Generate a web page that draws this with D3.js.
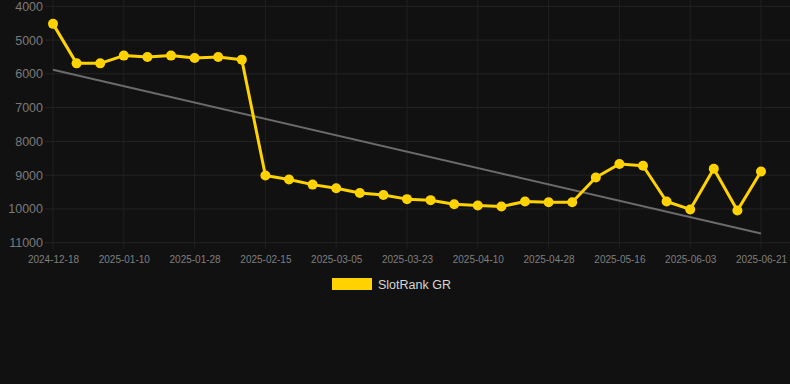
<!DOCTYPE html>
<html>
  <head>
    <script src="https://d3js.org/d3.v7.min.js"></script>
    <style>
      body { margin: 0; background: #111111; }
      text { font-family: "Liberation Sans", Arial, sans-serif; }
    </style>
  </head>
  <body>
    <div id="chart"></div>
    <script>
      const dates = [
        "2024-12-18", "2024-12-26", "2025-01-03", "2025-01-10", "2025-01-16",
        "2025-01-22", "2025-01-28", "2025-02-03", "2025-02-09", "2025-02-15",
        "2025-02-21", "2025-02-27", "2025-03-05", "2025-03-11", "2025-03-17",
        "2025-03-23", "2025-03-29", "2025-04-04", "2025-04-10", "2025-04-16",
        "2025-04-22", "2025-04-28", "2025-05-04", "2025-05-10", "2025-05-16",
        "2025-05-22", "2025-05-28", "2025-06-03", "2025-06-09", "2025-06-15",
        "2025-06-21",
      ];
      const ranks = [
        4520, 5690, 5690, 5460, 5500, 5460, 5530, 5500, 5580, 9010,
        9130, 9280, 9390, 9530, 9590, 9710, 9740, 9860, 9900, 9930,
        9780, 9800, 9800, 9070, 8670, 8720, 9780, 10015, 8810, 10045,
        8890,
      ];
      const yTicks = [4000, 5000, 6000, 7000, 8000, 9000, 10000, 11000];
      const seriesName = "SlotRank GR";

      const width = 790, height = 384;
      const plotLeft = 53, plotRight = 761, plotTop = 6.3, plotBottom = 242.7;

      const svg = d3
        .select("#chart")
        .append("svg")
        .attr("width", width)
        .attr("height", height);

      svg.append("rect")
        .attr("width", width)
        .attr("height", height)
        .attr("fill", "#111111");

      const x = d3.scalePoint().domain(dates).range([plotLeft, plotRight]);
      const y = d3.scaleLinear().domain([4000, 11000]).range([plotTop, plotBottom]);

      // grid lines
      svg.append("g")
        .selectAll("line")
        .data(yTicks)
        .join("line")
        .attr("x1", 45)
        .attr("x2", width)
        .attr("y1", (d) => y(d))
        .attr("y2", (d) => y(d))
        .attr("stroke", "#242424")
        .attr("stroke-width", 1);

      const xTicks = dates.filter((d, i) => i % 3 === 0);
      svg.append("g")
        .selectAll("line")
        .data(xTicks)
        .join("line")
        .attr("x1", (d) => x(d))
        .attr("x2", (d) => x(d))
        .attr("y1", 0)
        .attr("y2", plotBottom + 6)
        .attr("stroke", "#202020")
        .attr("stroke-width", 1);

      // Y axis labels
      const yAxis = svg.append("g")
        .attr("transform", `translate(${plotLeft - 10},0)`)
        .call(d3.axisLeft(y).tickValues(yTicks).tickSize(0).tickPadding(0).tickFormat(d3.format("d")));
      yAxis.select(".domain").remove();
      yAxis.selectAll("text")
        .attr("fill", "#7a7a7a")
        .style("font-size", "12.5px");

      // X axis labels
      const xAxis = svg.append("g")
        .attr("transform", `translate(0,${plotBottom + 10})`)
        .call(d3.axisBottom(x).tickValues(xTicks).tickSize(0).tickPadding(3));
      xAxis.select(".domain").remove();
      xAxis.selectAll("text")
        .attr("fill", "#7f7f7f")
        .style("font-size", "10px");

      // trend line (least squares)
      const idx = ranks.map((d, i) => i);
      const mx = d3.mean(idx), my = d3.mean(ranks);
      const slope = d3.sum(idx, (i) => (i - mx) * (ranks[i] - my)) / d3.sum(idx, (i) => (i - mx) ** 2);
      const icept = my - slope * mx;
      const trend = [0, dates.length - 1].map((i) => ({ date: dates[i], v: icept + slope * i }));
      svg.append("path")
        .datum(trend)
        .attr("fill", "none")
        .attr("stroke", "#6b6b6b")
        .attr("stroke-width", 2)
        .attr("d", d3.line().x((d) => x(d.date)).y((d) => y(d.v)));

      // series line
      const series = dates.map((d, i) => ({ date: d, v: ranks[i] }));
      svg.append("path")
        .datum(series)
        .attr("fill", "none")
        .attr("stroke", "#ffd200")
        .attr("stroke-width", 3)
        .attr("stroke-linejoin", "round")
        .attr("d", d3.line().x((d) => x(d.date)).y((d) => y(d.v)));

      svg.append("g")
        .selectAll("circle")
        .data(series)
        .join("circle")
        .attr("cx", (d) => x(d.date))
        .attr("cy", (d) => y(d.v))
        .attr("r", 5)
        .attr("fill", "#ffd200");

      // legend
      const legend = svg.append("g").attr("transform", "translate(332,278)");
      legend.append("rect")
        .attr("width", 40)
        .attr("height", 12)
        .attr("fill", "#ffd200");
      legend.append("text")
        .attr("x", 46)
        .attr("y", 10.5)
        .attr("fill", "#d6d6d6")
        .style("font-size", "12.5px")
        .text(seriesName);
    </script>
  </body>
</html>
